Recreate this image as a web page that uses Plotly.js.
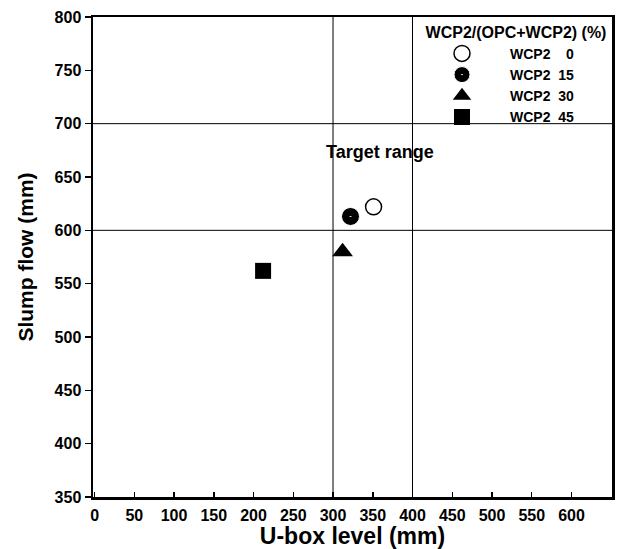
<!DOCTYPE html>
<html>
<head>
<meta charset="utf-8">
<script src="https://cdn.plot.ly/plotly-3.0.1.min.js"></script>
<style>html,body{margin:0;padding:0;background:#fff;}#chart{width:618px;height:549px;}</style>
</head>
<body>
<div id="chart"></div>
<script>
// Data
var seriesNames = ["WCP2\u00a0\u00a0\u00a0\u00a00", "WCP2\u00a0\u00a015", "WCP2\u00a0\u00a030", "WCP2\u00a0\u00a045"];
var uboxLevel = [351, 322, 312, 212];      // mm
var slumpFlow = [622, 613, 580, 562];      // mm
var targetX = [300, 400];                   // U-box target bounds
var targetY = [600, 700];                   // slump-flow target bounds
var xTicks = [0, 50, 100, 150, 200, 250, 300, 350, 400, 450, 500, 550, 600];
var yTicks = [350, 400, 450, 500, 550, 600, 650, 700, 750, 800];
var targetLabel = "Target range";
var targetLabelPos = [359, 673];
var legendTitle = "WCP2/(OPC+WCP2) (%)";

var markerStyles = [
  {symbol: "circle", size: 16, color: "#ffffff", line: {color: "#000", width: 1.5}},
  {symbol: "circle-dot", size: 18, color: "#000000", line: {color: "#ffffff", width: 1}},
  {symbol: "triangle-up", size: 18, color: "#000000", line: {color: "#000", width: 0}},
  {symbol: "square", size: 16, color: "#000000", line: {color: "#000", width: 0}}
];

var pad = "\u00a0\u00a0\u00a0\u00a0\u00a0\u00a0\u00a0\u00a0\u00a0\u00a0";
var traces = seriesNames.map(function (n, i) {
  return {
    type: "scatter", mode: "markers", name: n + pad,
    x: [uboxLevel[i]], y: [slumpFlow[i]],
    marker: markerStyles[i], legendgroup: "g" + i, cliponaxis: false
  };
});

var shapes = [];
targetX.forEach(function (v) {
  shapes.push({type: "line", xref: "x", yref: "paper", x0: v, x1: v, y0: 0, y1: 1,
    line: {color: "#000", width: 1}, layer: "below"});
});
targetY.forEach(function (v) {
  shapes.push({type: "line", xref: "paper", yref: "y", x0: 0, x1: 1, y0: v, y1: v,
    line: {color: "#000", width: 1}, layer: "below"});
});

var fam = "Liberation Sans, Arial, sans-serif";
function bold(s) { return "<b>" + s + "</b>"; }

var layout = {
  width: 618, height: 549,
  margin: {l: 93, r: 6, t: 17, b: 52, autoexpand: false},
  paper_bgcolor: "#fff", plot_bgcolor: "#fff",
  font: {family: fam, color: "#000"},
  showlegend: true,
  xaxis: {
    range: [-2, 651], tickvals: xTicks, ticktext: xTicks.map(function (v) { return bold(v); }),
    ticks: "inside", ticklen: 5, tickwidth: 1.5, tickcolor: "#000",
    showgrid: false, zeroline: false,
    showline: true, linecolor: "#000", linewidth: 2.5, mirror: true,
    tickfont: {family: fam, size: 16, color: "#000", weight: "bold"},
    ticklabelstandoff: 2,
    title: {text: bold("U-box level (mm)"), font: {family: fam, size: 23, color: "#000"}, standoff: 0}
  },
  yaxis: {
    range: [350, 800], tickvals: yTicks, ticktext: yTicks.map(function (v) { return bold(v); }),
    ticks: "outside", ticklen: 6, tickwidth: 1.5, tickcolor: "#000",
    showgrid: false, zeroline: false,
    showline: true, linecolor: "#000", linewidth: 2.5, mirror: true,
    tickfont: {family: fam, size: 16, color: "#000", weight: "bold"},
    title: {text: bold("Slump flow (mm)"), font: {family: fam, size: 21, color: "#000"}, standoff: 15}
  },
  shapes: shapes,
  annotations: [{
    x: targetLabelPos[0], y: targetLabelPos[1], xref: "x", yref: "y",
    text: bold(targetLabel), showarrow: false,
    font: {family: fam, size: 18, color: "#000"}
  }],
  legend: {
    x: 0.6185, y: 1.0, xanchor: "left", yanchor: "top",
    bgcolor: "rgba(0,0,0,0)", borderwidth: 0,
    itemwidth: 86, tracegroupgap: 0,
    font: {family: fam, size: 14, color: "#000", weight: "bold"},
    title: {text: bold(legendTitle), side: "top center",
      font: {family: fam, size: 16, color: "#000"}}
  }
};

Plotly.newPlot("chart", traces, layout, {displayModeBar: false, staticPlot: true});
</script>
</body>
</html>
